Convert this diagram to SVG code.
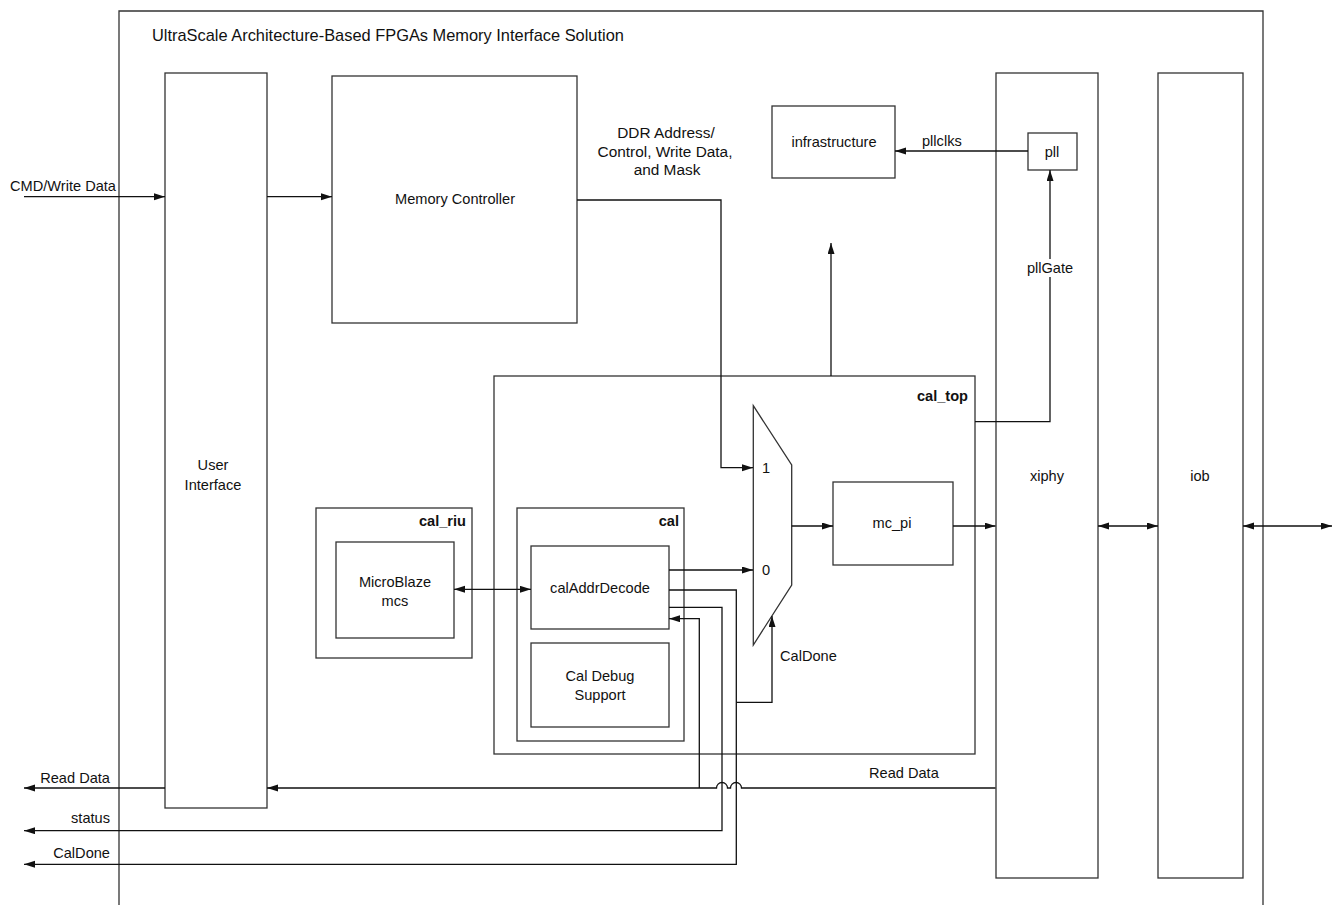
<svg xmlns="http://www.w3.org/2000/svg" width="1333" height="905" viewBox="0 0 1333 905">
<style>
.box{fill:none;stroke:#333;stroke-width:1.3}
.wbox{fill:#fff;stroke:#333;stroke-width:1.3}
.ln{fill:none;stroke:#111;stroke-width:1.3}
text{font-family:"Liberation Sans",Arial,sans-serif;font-size:14.6px;fill:#111}
.big{font-size:16.4px}
.mid{font-size:15.4px}
.c{text-anchor:middle}
.r{text-anchor:end}
.b{font-weight:bold}
</style>
<defs>
<marker id="ah" markerUnits="userSpaceOnUse" markerWidth="12" markerHeight="8" refX="11" refY="3.5" orient="auto-start-reverse"><path d="M0,0 L11,3.5 L0,7 z" fill="#111"/></marker>
</defs>
<rect width="1333" height="905" fill="#fff"/>
<g id="outer">
<path class="box" d="M119,905 V11 H1263 V905"/>
<text class="big" x="152" y="41">UltraScale Architecture-Based FPGAs Memory Interface Solution</text>
</g>
<g id="ui"><rect class="box" x="165" y="73" width="102" height="735"/><text class="c" x="213" y="470">User</text><text class="c" x="213" y="490">Interface</text></g>
<g id="mc"><rect class="box" x="332" y="76" width="245" height="247"/><text class="c" x="455" y="204">Memory Controller</text></g>
<g id="ddrlabel"><text class="c mid" x="666" y="138">DDR Address/</text><text class="c mid" x="665" y="157">Control, Write Data,</text><text class="c mid" x="667" y="175">and Mask</text></g>
<g id="infra"><rect class="box" x="772" y="106" width="123" height="72"/><text class="c" x="834" y="147">infrastructure</text></g>
<g id="xiphy"><rect class="box" x="996" y="73" width="102" height="805"/><text class="c" x="1047" y="481">xiphy</text></g>
<g id="iob"><rect class="box" x="1158" y="73" width="85" height="805"/><text class="c" x="1200" y="481">iob</text></g>
<g id="pll"><rect class="wbox" x="1028" y="133" width="49" height="37"/><text class="c" x="1052" y="157">pll</text></g>
<g id="cal_top"><rect class="box" x="494" y="376" width="481" height="378"/><text class="r b" x="968" y="401">cal_top</text></g>
<g id="mux"><path class="box" d="M753.3,405.7 L791.7,465 V585 L753.3,645 Z"/><text x="762" y="473">1</text><text x="762" y="575">0</text></g>
<g id="mc_pi"><rect class="box" x="833" y="482" width="120" height="83"/><text class="c" x="892" y="528">mc_pi</text></g>
<g id="cal_riu"><rect class="box" x="316" y="508" width="156" height="150"/><text class="r b" x="466" y="526">cal_riu</text></g>
<g id="microblaze"><rect class="box" x="336" y="542" width="118" height="96"/><text class="c" x="395" y="587">MicroBlaze</text><text class="c" x="395" y="606">mcs</text></g>
<g id="cal"><rect class="box" x="517" y="508" width="167" height="233"/><text class="r b" x="679" y="526">cal</text></g>
<g id="caladdr"><rect class="box" x="531" y="546" width="138" height="83"/><text class="c" x="600" y="593">calAddrDecode</text></g>
<g id="caldebug"><rect class="box" x="531" y="643" width="138" height="84"/><text class="c" x="600" y="681">Cal Debug</text><text class="c" x="600" y="700">Support</text></g>
<g id="connectors">
<path class="ln" d="M24,196.7 H165" marker-end="url(#ah)"/>
<path class="ln" d="M267,196.7 H332" marker-end="url(#ah)"/>
<path class="ln" d="M577,200 H721 V467.7 H753" marker-end="url(#ah)"/>
<path class="ln" d="M669,570 H753" marker-end="url(#ah)"/>
<path class="ln" d="M791.7,526 H833" marker-end="url(#ah)"/>
<path class="ln" d="M953,526 H995.5" marker-end="url(#ah)"/>
<path class="ln" d="M1098,526 H1158" marker-start="url(#ah)" marker-end="url(#ah)"/>
<path class="ln" d="M1243,526 H1332" marker-start="url(#ah)" marker-end="url(#ah)"/>
<path class="ln" d="M454,589.3 H531" marker-start="url(#ah)" marker-end="url(#ah)"/>
<path class="ln" d="M975,421.7 H1050 V170" marker-end="url(#ah)"/>
<path class="ln" d="M1028,151 H895" marker-end="url(#ah)"/>
<path class="ln" d="M831,376 V243" marker-end="url(#ah)"/>
<path class="ln" d="M995.5,788 H741.5 A5.5,5.5 0 0 0 730.5,788 H727.5 A5.5,5.5 0 0 0 716.5,788 H267" marker-end="url(#ah)"/>
<path class="ln" d="M699.3,788 V618.7 H669" marker-end="url(#ah)"/>
<path class="ln" d="M669,607.3 H722 V830.7 H24" marker-end="url(#ah)"/>
<path class="ln" d="M669,590 H736.3 V864.3 H24" marker-end="url(#ah)"/>
<path class="ln" d="M736.3,702.3 H772 V616" marker-end="url(#ah)"/>
<path class="ln" d="M165,788 H24" marker-end="url(#ah)"/>
</g>
<g id="labels">
<text x="10" y="191">CMD/Write Data</text>
<text x="922" y="146">pllclks</text>
<rect x="1024" y="259" width="52" height="18" fill="#fff"/>
<text class="c" x="1050" y="273">pllGate</text>
<text x="780" y="661">CalDone</text>
<text x="869" y="778">Read Data</text>
<text class="r" x="110" y="783">Read Data</text>
<text class="r" x="110" y="823">status</text>
<text class="r" x="110" y="858">CalDone</text>
</g>
</svg>
